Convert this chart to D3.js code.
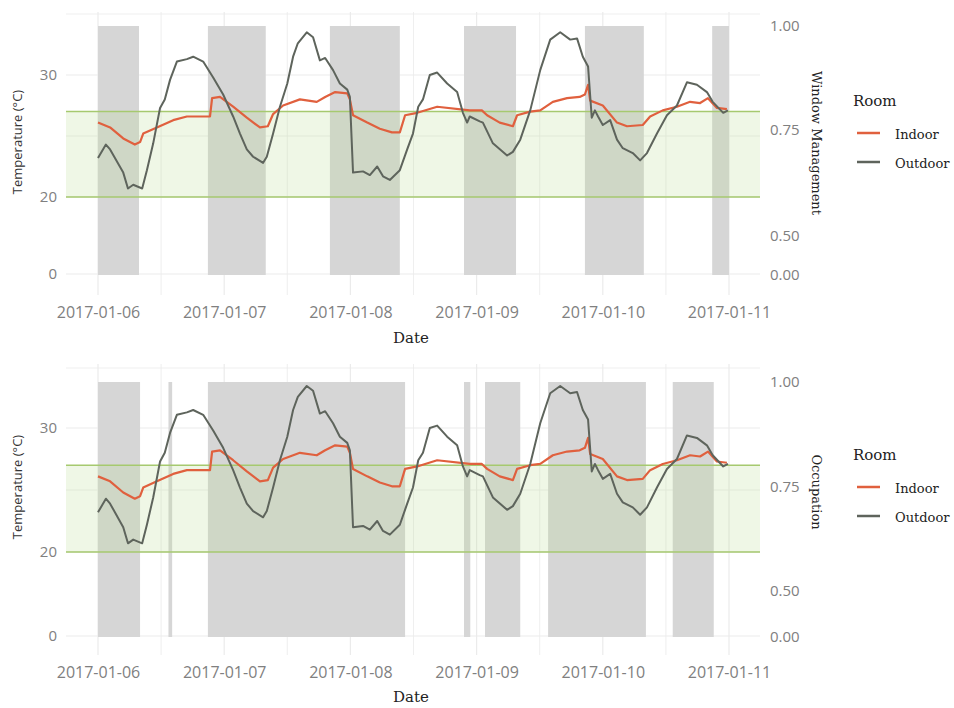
<!DOCTYPE html>
<html>
<head>
<meta charset="utf-8">
<script src="https://cdn.jsdelivr.net/npm/d3@7"></script>
<style>
  body { margin: 0; background: #fff; }
</style>
</head>
<body>
<svg id="chart" width="954" height="708"></svg>
<script>
// two stacked panels: indoor/outdoor temperature over grey state bars

const width = 954;
const height = 708;
const svg = d3.select("#chart");

// --- data (hours after 2017-01-06 00:00) ---
const startDate = new Date(2017, 0, 6);
const dayTicks = ["2017-01-06", "2017-01-07", "2017-01-08", "2017-01-09", "2017-01-10", "2017-01-11"];

const outdoorHours = [0, 1.5, 2.3, 4.8, 5.7, 6.7, 8.4, 9.3, 10.5, 11.8, 12.7, 13.7, 15.0, 16.9, 18.1, 20.0, 21.9, 23.8, 25.7, 27.0,
  28.3, 29.5, 31.4, 32.1, 33.3, 34.6, 36.0, 37.1, 38.0, 39.7, 40.9, 42.2, 43.2, 44.7, 46.0, 47.4, 47.9, 48.5, 50.4, 51.7,
  53.1, 54.2, 55.5, 57.4, 58.8, 59.9, 60.9, 61.8, 63.1, 64.5, 66.4, 68.3, 69.4, 70.2, 70.7, 72.6, 73.2, 75.1, 77.8, 78.9,
  80.3, 82.2, 84.1, 86.0, 87.9, 89.8, 91.1, 92.2, 93.2, 93.9, 94.5, 95.1, 96.0, 97.4, 98.7, 99.8, 101.7, 103.1, 104.4, 106.3,
  108.2, 110.1, 112.0, 113.9, 115.8, 116.9, 118.9, 119.8];
const outdoorTemp = [23.2, 24.3, 23.9, 22.0, 20.7, 21.0, 20.7, 22.2, 24.4, 27.3, 28.0, 29.6, 31.1, 31.3, 31.5, 31.1, 29.8, 28.4, 26.6, 25.2,
  23.9, 23.3, 22.8, 23.3, 25.2, 27.4, 29.3, 31.5, 32.6, 33.5, 33.1, 31.2, 31.4, 30.4, 29.3, 28.8, 28.2, 22.0, 22.1, 21.8,
  22.5, 21.7, 21.4, 22.2, 23.9, 25.2, 27.4, 28.0, 30.0, 30.2, 29.3, 28.6, 26.9, 26.1, 26.6, 26.2, 26.1, 24.4, 23.4, 23.7,
  24.7, 27.1, 30.4, 32.9, 33.5, 32.9, 33.0, 31.5, 30.7, 26.5, 27.1, 26.6, 25.9, 26.3, 24.7, 24.0, 23.6, 23.0, 23.6, 25.2,
  26.7, 27.5, 29.4, 29.2, 28.6, 27.8, 26.9, 27.1];

const indoorHours = [0, 2.3, 4.8, 7.0, 8.0, 8.6, 11.2, 14.3, 16.9, 21.3, 21.7, 23.2, 25.7, 28.3, 30.8, 32.3, 33.3, 35.2, 38.4, 41.6,
  43.2, 45.1, 47.4, 47.9, 48.5, 51.2, 53.6, 55.9, 57.4, 58.4, 60.7, 64.5, 70.7, 73.0, 74.0, 76.4, 78.9, 79.7, 82.2, 84.1,
  86.5, 89.2, 91.6, 92.6, 93.2, 93.6, 96.0, 98.7, 100.6, 103.6, 105.0, 107.4, 110.1, 112.6, 114.5, 116.0, 117.7, 119.6];
const indoorTemp = [26.1, 25.7, 24.8, 24.3, 24.5, 25.2, 25.7, 26.3, 26.6, 26.6, 28.1, 28.2, 27.4, 26.5, 25.7, 25.8, 26.8, 27.5, 28.0, 27.8,
  28.2, 28.6, 28.5, 28.0, 26.7, 26.1, 25.6, 25.3, 25.3, 26.7, 26.9, 27.4, 27.1, 27.1, 26.7, 26.1, 25.8, 26.7, 27.0, 27.1,
  27.8, 28.1, 28.2, 28.4, 29.2, 27.9, 27.5, 26.1, 25.8, 25.9, 26.6, 27.1, 27.4, 27.8, 27.7, 28.1, 27.3, 27.2];

// window open / occupied periods (start, end in hours)
const windowStart = [0, 20.9, 44.1, 69.6, 92.6, 116.8];
const windowEnd = [7.8, 31.9, 57.4, 79.5, 103.8, 120];
const occupiedStart = [0, 13.4, 20.9, 69.6, 73.6, 85.6, 109.3];
const occupiedEnd = [8.0, 14.1, 58.4, 70.8, 80.3, 104.2, 117.1];

const tempTicks = [0, 20, 30];
const tempGrid = [0, 20, 25, 30, 35];
const shareTicks = [0, 0.5, 0.75, 1];
const comfortBand = [20, 27];
const seriesNames = ["Indoor", "Outdoor"];
const seriesColors = ["#e0603e", "#5e645c"];

const toDate = h => new Date(startDate.getTime() + h * 3600 * 1000);
const zip = (hs, vs) => hs.map((h, i) => ({t: toDate(h), v: vs[i]}));
const indoor = zip(indoorHours, indoorTemp);
const outdoor = zip(outdoorHours, outdoorTemp);

const x = d3.scaleTime()
    .domain([startDate, toDate(120)])
    .range([98, 729]);

const panels = [
  {
    starts: windowStart, ends: windowEnd, rightTitle: "Window Management",
    tempRange: [274, 197, 75, 14], shareRange: [275, 236, 130, 26],
    gridTop: 12, gridBottom: 295, tickY: 313, dateY: 343,
    leftTitleY: 142, rightTitleY: 143, legendY: 106
  },
  {
    starts: occupiedStart, ends: occupiedEnd, rightTitle: "Occupation",
    tempRange: [636, 552, 428, 368], shareRange: [637, 591, 487, 382],
    gridTop: 364, gridBottom: 655, tickY: 673, dateY: 702,
    leftTitleY: 487, rightTitleY: 492, legendY: 460
  }
];

const tickFont = "'Open Sans', sans-serif";
const serifFont = "'DejaVu Serif', serif";

panels.forEach(p => {
  const g = svg.append("g");
  const y = d3.scaleLinear().domain([0, 20, 30, 35]).range(p.tempRange);
  const yShare = d3.scaleLinear().domain([0, 0.5, 0.75, 1]).range(p.shareRange);

  // grid
  const gridHours = d3.range(0, 121, 12);
  g.append("g").selectAll("line")
    .data(gridHours)
    .join("line")
    .attr("x1", h => x(toDate(h))).attr("x2", h => x(toDate(h)))
    .attr("y1", p.gridTop).attr("y2", p.gridBottom)
    .attr("stroke", "#ebebeb")
    .attr("stroke-width", h => h % 24 === 0 ? 1.2 : 0.8);
  g.append("g").selectAll("line")
    .data(tempGrid)
    .join("line")
    .attr("x1", 66).attr("x2", 760)
    .attr("y1", d => y(d)).attr("y2", d => y(d))
    .attr("stroke", "#ebebeb")
    .attr("stroke-width", d => d === 25 || d === 35 ? 0.8 : 1.2);

  // grey state bars
  g.append("g").selectAll("rect")
    .data(p.starts.map((s, i) => [s, p.ends[i]]))
    .join("rect")
    .attr("x", d => x(toDate(d[0])))
    .attr("width", d => x(toDate(d[1])) - x(toDate(d[0])))
    .attr("y", yShare(1))
    .attr("height", yShare(0) - yShare(1))
    .attr("fill", "#d6d6d6");

  // comfort band
  g.append("rect")
    .attr("x", 66).attr("width", 694)
    .attr("y", y(comfortBand[1]))
    .attr("height", y(comfortBand[0]) - y(comfortBand[1]))
    .attr("fill", "#b5da8f")
    .attr("fill-opacity", 0.22);
  g.append("g").selectAll("line")
    .data(comfortBand)
    .join("line")
    .attr("x1", 66).attr("x2", 760)
    .attr("y1", d => y(d)).attr("y2", d => y(d))
    .attr("stroke", "#a6c96f")
    .attr("stroke-width", 1.5);

  // temperature lines
  const line = d3.line().x(d => x(d.t)).y(d => y(d.v));
  [indoor, outdoor].forEach((series, i) => {
    g.append("path")
      .datum(series)
      .attr("d", line)
      .attr("fill", "none")
      .attr("stroke", seriesColors[i])
      .attr("stroke-width", i === 0 ? 2.2 : 2)
      .attr("stroke-linejoin", "round");
  });

  // axes
  const xAxis = g.append("g")
    .attr("transform", `translate(0,${p.tickY})`)
    .call(d3.axisBottom(x)
      .tickValues(dayTicks.map(d => d3.timeParse("%Y-%m-%d")(d)))
      .tickFormat(d3.timeFormat("%Y-%m-%d"))
      .tickSize(0));
  const leftAxis = g.append("g")
    .attr("transform", "translate(57,0)")
    .call(d3.axisLeft(y).tickValues(tempTicks).tickSize(0).tickPadding(0));
  const rightAxis = g.append("g")
    .attr("transform", "translate(770,0)")
    .call(d3.axisRight(yShare).tickValues(shareTicks).tickFormat(d3.format(".2f")).tickSize(0).tickPadding(0));
  [xAxis, leftAxis, rightAxis].forEach(a => {
    a.select(".domain").remove();
    a.selectAll("text")
      .attr("fill", "#808080")
      .style("font-family", tickFont)
      .style("font-size", "15px");
  });
  xAxis.selectAll("text").attr("dy", "0.32em").attr("y", 0).style("font-size", "16px");

  // titles
  g.append("text")
    .attr("transform", `translate(22,${p.leftTitleY}) rotate(-90)`)
    .attr("text-anchor", "middle")
    .attr("fill", "#333")
    .style("font-family", tickFont)
    .style("font-size", "13px")
    .text("Temperature (°C)");
  g.append("text")
    .attr("x", 411).attr("y", p.dateY)
    .attr("text-anchor", "middle")
    .attr("fill", "#222")
    .style("font-family", serifFont)
    .style("font-size", "15px")
    .text("Date");
  g.append("text")
    .attr("transform", `translate(812,${p.rightTitleY}) rotate(90)`)
    .attr("text-anchor", "middle")
    .attr("fill", "#222")
    .style("font-family", serifFont)
    .style("font-size", "13px")
    .text(p.rightTitle);

  // legend
  const lg = g.append("g").attr("transform", `translate(853,${p.legendY})`);
  lg.append("text")
    .attr("fill", "#222")
    .style("font-family", serifFont)
    .style("font-size", "15px")
    .text("Room");
  seriesNames.forEach((name, i) => {
    const ly = 27 + i * 29;
    lg.append("line")
      .attr("x1", 4).attr("x2", 27)
      .attr("y1", ly).attr("y2", ly)
      .attr("stroke", seriesColors[i])
      .attr("stroke-width", 2.5);
    lg.append("text")
      .attr("x", 42).attr("y", ly + 6)
      .attr("fill", "#222")
      .style("font-family", serifFont)
      .style("font-size", "13px")
      .text(name);
  });
});
</script>
</body>
</html>
